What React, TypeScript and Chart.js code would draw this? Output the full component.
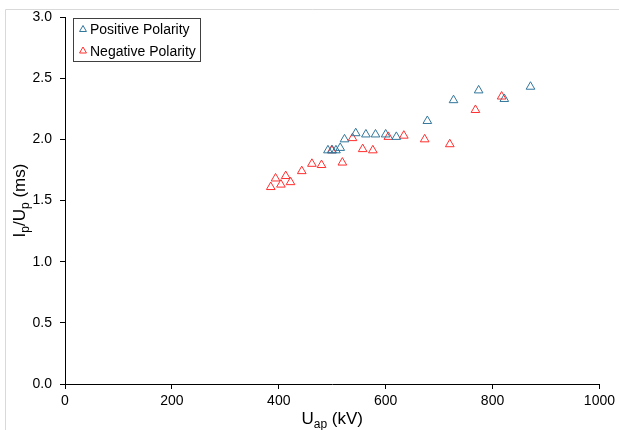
import React, { useEffect, useRef } from "react";
import { Chart, registerables } from "chart.js";

Chart.register(...registerables);

const positiveKV = [492, 500, 507, 515, 523, 544, 563, 581, 600, 620, 678, 727, 774, 822, 871];
const positiveRatio = [1.91, 1.91, 1.91, 1.93, 2.0, 2.05, 2.04, 2.04, 2.04, 2.02, 2.15, 2.32, 2.4, 2.33, 2.43];

const negativeKV = [385, 394, 404, 413, 422, 443, 462, 480, 499, 519, 538, 557, 576, 605, 634, 673, 720, 768, 817];
const negativeRatio = [1.61, 1.68, 1.63, 1.7, 1.65, 1.74, 1.8, 1.79, 1.91, 1.81, 2.01, 1.92, 1.91, 2.02, 2.03, 2.0, 1.96, 2.24, 2.35];

const xTicks = [0, 200, 400, 600, 800, 1000];
const yTicks = [0, 0.5, 1.0, 1.5, 2.0, 2.5, 3.0];

const seriesNames = ["Positive Polarity", "Negative Polarity"];
const BLUE = "#31769b";
const RED = "#ff2e2e";
const FONT = "'Liberation Sans', Arial, sans-serif";

function drawTri(ctx: CanvasRenderingContext2D, x: number, y: number, r: number, color: string) {
  ctx.save();
  ctx.strokeStyle = color;
  ctx.lineWidth = 1;
  ctx.beginPath();
  ctx.moveTo(x, y - r);
  ctx.lineTo(x + r * Math.sin(Math.PI / 3), y + r / 2);
  ctx.lineTo(x - r * Math.sin(Math.PI / 3), y + r / 2);
  ctx.closePath();
  ctx.stroke();
  ctx.restore();
}

const decorPlugin = {
  id: "decor",
  afterDraw(chart: any) {
    const ctx: CanvasRenderingContext2D = chart.ctx;
    const area = chart.chartArea;
    ctx.save();
    // light outer frame
    ctx.strokeStyle = "#d9d9d9";
    ctx.lineWidth = 1;
    ctx.beginPath();
    ctx.moveTo(5.5, 430);
    ctx.lineTo(5.5, 9.5);
    ctx.lineTo(619, 9.5);
    ctx.stroke();

    // legend
    ctx.fillStyle = "#ffffff";
    ctx.fillRect(73, 18, 127, 43);
    ctx.strokeStyle = "#404040";
    ctx.strokeRect(73.5, 18.5, 127, 43);
    ctx.fillStyle = "#000";
    ctx.font = `14px ${FONT}`;
    ctx.textBaseline = "alphabetic";
    ctx.textAlign = "left";
    drawTri(ctx, 83, 29.5, 4, BLUE);
    ctx.fillText(seriesNames[0], 90, 34);
    drawTri(ctx, 83, 51, 4, RED);
    ctx.fillText(seriesNames[1], 90, 55.5);

    // x title: U_ap (kV)
    const cx = (area.left + area.right) / 2;
    const bigX = `17px ${FONT}`;
    const subX = `12px ${FONT}`;
    ctx.font = bigX;
    const wU = ctx.measureText("U").width;
    const wRest = ctx.measureText(" (kV)").width;
    ctx.font = subX;
    const wSub = ctx.measureText("ap").width;
    let sx = cx - (wU + wSub + wRest) / 2;
    const by = 424;
    ctx.font = bigX;
    ctx.fillText("U", sx, by);
    sx += wU;
    ctx.font = subX;
    ctx.fillText("ap", sx, by + 4);
    sx += wSub;
    ctx.font = bigX;
    ctx.fillText(" (kV)", sx, by);

    // y title: I_p/U_p (ms)
    const cy = (area.top + area.bottom) / 2;
    const parts: [string, boolean][] = [["I", false], ["p", true], ["/U", false], ["p", true], [" (ms)", false]];
    let total = 0;
    const widths: number[] = [];
    for (const [t, sub] of parts) {
      ctx.font = sub ? subX : bigX;
      const w = ctx.measureText(t).width;
      widths.push(w);
      total += w;
    }
    ctx.translate(25, cy);
    ctx.rotate(-Math.PI / 2);
    let px = -total / 2;
    parts.forEach(([t, sub], i) => {
      ctx.font = sub ? subX : bigX;
      ctx.fillText(t, px, sub ? 4 : 0);
      px += widths[i];
    });
    ctx.restore();
  },
};

export default function App() {
  const ref = useRef<HTMLCanvasElement | null>(null);

  useEffect(() => {
    document.body.style.margin = "0";
    if (!ref.current) return;
    const toPts = (xs: number[], ys: number[]) => xs.map((x, i) => ({ x, y: ys[i] }));
    const chart = new Chart(ref.current, {
      type: "scatter",
      data: {
        datasets: [
          {
            label: seriesNames[0],
            data: toPts(positiveKV, positiveRatio),
            pointStyle: "triangle",
            pointRadius: 5,
            borderColor: BLUE,
            backgroundColor: "rgba(0,0,0,0)",
            borderWidth: 1,
          },
          {
            label: seriesNames[1],
            data: toPts(negativeKV, negativeRatio),
            pointStyle: "triangle",
            pointRadius: 5,
            borderColor: RED,
            backgroundColor: "rgba(0,0,0,0)",
            borderWidth: 1,
          },
        ],
      },
      options: {
        animation: false,
        responsive: false,
        events: [],
        layout: { padding: { left: 0, top: 17, right: 19, bottom: 0 } },
        plugins: { legend: { display: false }, tooltip: { enabled: false } },
        scales: {
          x: {
            type: "linear",
            min: xTicks[0],
            max: xTicks[xTicks.length - 1],
            afterBuildTicks: (s: any) => {
              s.ticks = xTicks.map((v) => ({ value: v }));
            },
            afterFit: (s: any) => {
              s.height = 46;
            },
            grid: { display: true, drawOnChartArea: false, drawTicks: true, tickLength: 5, color: "#000", lineWidth: 1 },
            border: { display: true, color: "#000", width: 1 },
            ticks: {
              color: "#000",
              font: { family: FONT, size: 14 },
              padding: 4,
              maxRotation: 0,
              callback: (v: any) => String(v),
            },
          },
          y: {
            type: "linear",
            min: yTicks[0],
            max: yTicks[yTicks.length - 1],
            afterBuildTicks: (s: any) => {
              s.ticks = yTicks.map((v) => ({ value: v }));
            },
            afterFit: (s: any) => {
              s.width = 65;
            },
            grid: { display: true, drawOnChartArea: false, drawTicks: true, tickLength: 5, color: "#000", lineWidth: 1 },
            border: { display: true, color: "#000", width: 1 },
            ticks: {
              color: "#000",
              font: { family: FONT, size: 14 },
              padding: 8,
              callback: (v: any) => Number(v).toFixed(1),
            },
          },
        },
      },
      plugins: [decorPlugin],
    });
    return () => chart.destroy();
  }, []);

  return (
    <div style={{ width: 619, height: 430, background: "#fff" }}>
      <canvas ref={ref} width={619} height={430} style={{ display: "block" }} />
    </div>
  );
}
